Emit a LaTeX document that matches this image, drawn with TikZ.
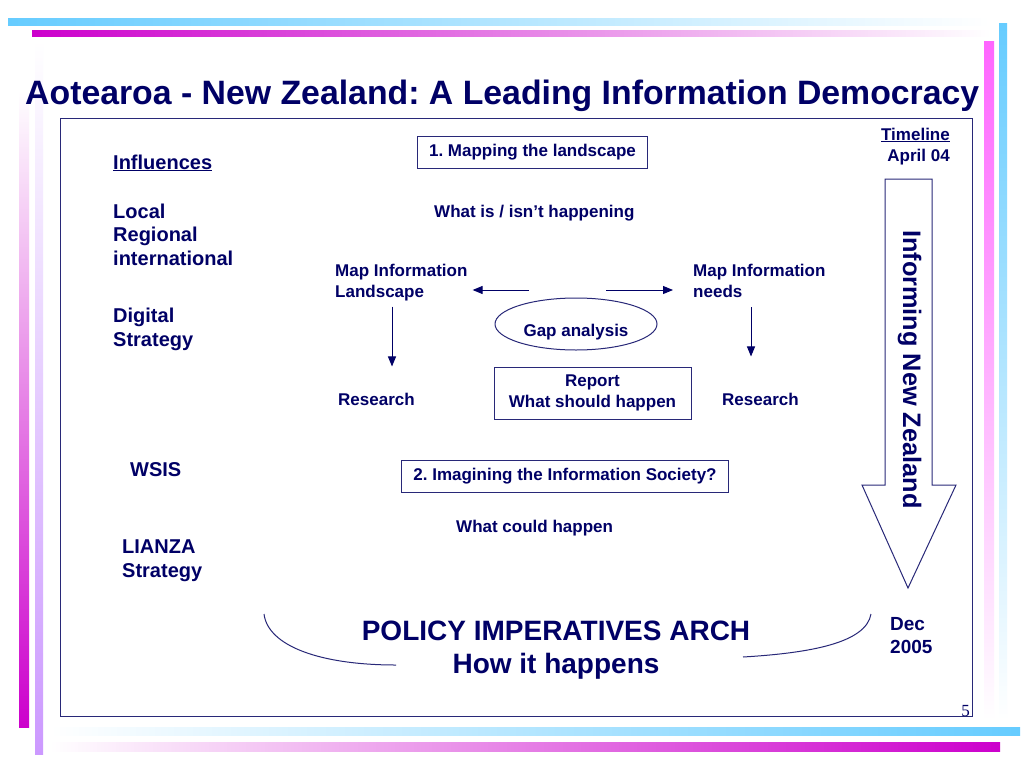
\documentclass[tikz,border=0pt]{standalone}
\usepackage{fontspec}
\setmainfont{Liberation Sans}
\newfontfamily\pagefont{Liberation Serif}
\usetikzlibrary{positioning,shapes.geometric,arrows.meta}

\definecolor{navy}{RGB}{0,0,102}
\definecolor{framec}{RGB}{40,40,120}
\definecolor{barcyan}{RGB}{102,204,255}
\definecolor{barmag}{RGB}{204,0,204}
\definecolor{barpink}{RGB}{255,102,255}
\definecolor{barlav}{RGB}{204,153,255}
\newcommand{\fsz}[2]{\fontsize{#1}{#2}\selectfont\bfseries}
\frenchspacing

\begin{document}
\begin{tikzpicture}[x=1pt,y=-1pt,
				every node/.style = {text=navy, inner sep=0pt},
				txt node/.style = {anchor=base west, align=left},
				box node/.style = {draw=framec, line width=1pt, inner xsep=12pt, inner ysep=7pt, font=\fsz{17}{21}},
				arr/.style = {draw=navy, line width=1pt, -{Triangle[length=10pt,width=8pt]}}]
				
				\useasboundingbox (0,0) rectangle (1024,768);
				\fill[white] (0,0) rectangle (1024,768);
				
				% side bars
				\shade[left color=barcyan, right color=white] (8,19) rectangle (990,26);
				\shade[left color=barmag, right color=white] (32,31) rectangle (990,37);
				\shade[left color=white, right color=barcyan] (50,727) rectangle (1020,735);
				\shade[left color=white, right color=barmag] (50,742) rectangle (1000,751);
				\shade[top color=white, bottom color=barmag] (19,90) rectangle (29,727);
				\shade[top color=white, bottom color=barlav] (35,40) rectangle (43,754);
				\shade[top color=barpink, bottom color=white] (984,42) rectangle (994,720);
				\shade[top color=barcyan, bottom color=white] (999,24) rectangle (1007,720);
				
				\draw[framec, line width=0.9pt] (60,118) rectangle (972,716);
				
				\node[anchor=base west, font=\fsz{33.8}{40}] (title) at (25,104) {Aotearoa - New Zealand: A Leading Information Democracy};
				
				% influences (base = last line)
				\node[txt node, font=\fsz{20}{24}] (infl) at (113,169) {\underline{Influences}};
				\node[txt node, font=\fsz{20}{23.5}] (local) at (113,265) {Local\\Regional\\international};
				\node[txt node, font=\fsz{20}{23.5}] (digital) at (113,346) {Digital\\Strategy};
				\node[txt node, font=\fsz{20}{24}] (wsis) at (130,476) {WSIS};
				\node[txt node, font=\fsz{20}{24}] (lianza) at (122,577) {LIANZA\\Strategy};
				
				% mapping
				\node[box node, inner ysep=7pt, text depth=5pt] (map) at (532.5,152.5) {1. Mapping the landscape};
				\node[txt node, font=\fsz{17}{21}] (whatis) at (434,217) {What is / isn’t happening};
				\node[txt node, font=\fsz{17}{21}] (maplnd) at (335,297) {Map Information\\Landscape};
				\node[txt node, font=\fsz{17}{21}] (mapneeds) at (693,297) {Map Information\\needs};
				\node[ellipse, draw=framec, line width=1pt, minimum width=162pt, minimum height=52pt,
				text height=28pt, text depth=4pt, font=\fsz{17}{21}] (gap) at (576,324) {Gap analysis};
				\node[txt node, font=\fsz{17}{21}] (resl) at (338,405) {Research};
				\node[txt node, font=\fsz{17}{21}] (resr) at (722,405) {Research};
				\node[box node, align=center, minimum width=197pt, minimum height=52pt] (report) at (592.5,393) {Report\\What should happen};
				
				% imagining
				\node[box node, inner ysep=7pt, text depth=5pt] (imagine) at (565,476.5) {2. Imagining the Information Society?};
				\node[txt node, font=\fsz{17}{21}] (could) at (456,532) {What could happen};
				
				% timeline
				\node[anchor=base east, align=right, font=\fsz{17}{21}] (timeline) at (950,161) {\underline{Timeline}\\April 04};
				\node[txt node, font=\fsz{19}{23}] (dec) at (890,653) {Dec\\2005};
				\draw[framec, line width=1pt, fill=white] (885,179) -- (932,179) -- (932,485) -- (956,485)
				-- (908,588) -- (862,485) -- (885,485) -- cycle;
				\node[rotate=-90, anchor=base west, font=\fsz{25.3}{30}] (inform) at (903,230) {Informing New Zealand};
				
				% arch
				\node[anchor=base, align=center, font=\fsz{28}{33}] (policy) at (556,673) {POLICY IMPERATIVES ARCH\\How it happens};
				\draw[framec, line width=1pt] (264,614) .. controls (268,646) and (320,665) .. (396,665);
				\draw[framec, line width=1pt] (743,657) .. controls (810,653) and (866,643) .. (871,614);
				
				\node[anchor=base east, font=\pagefont\fontsize{17}{20}\selectfont] (pnum) at (970,716) {5};
				
				\coordinate (gl) at (529,290);
				\coordinate (gr) at (606,290);
				\coordinate (xl) at (392,0);
				\coordinate (xr) at (751,0);
				\draw[arr, shorten >=5pt] (gl) -- (gl -| maplnd.east);
				\draw[arr, shorten >=20pt] (gr) -- (gr -| mapneeds.west);
				\draw[arr, shorten <=6pt, shorten >=26pt] (maplnd.south -| xl) -- (resl.north -| xl);
				\draw[arr, shorten <=10pt, shorten >=36pt] (mapneeds.south -| xr) -- (resr.north -| xr);
\end{tikzpicture}
\end{document}
